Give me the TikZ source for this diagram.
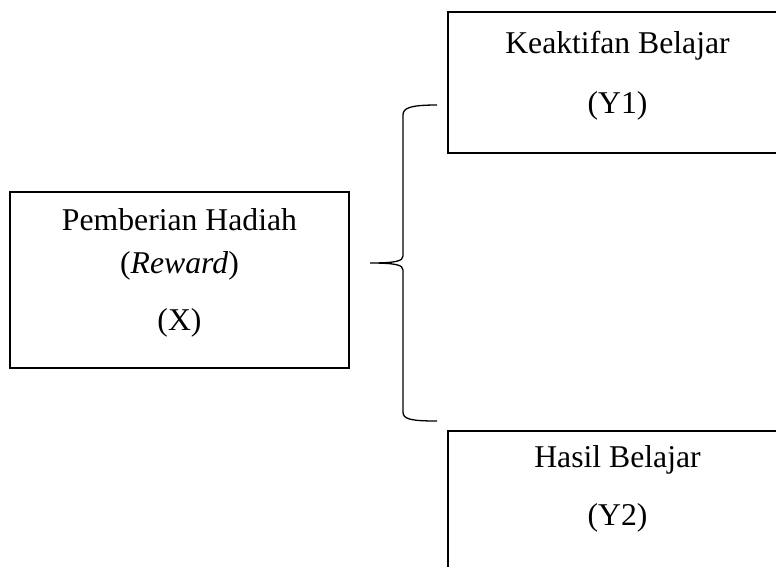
\documentclass[tikz,border=0pt]{standalone}
\usepackage{fontspec}
\setmainfont{Liberation Serif}
\usetikzlibrary{positioning}
\tikzset{
varbox/.style={draw,line width=2.5pt,minimum width=339pt,inner sep=0pt},
vartext/.style={align=center,inner sep=0pt,font=\fontsize{31.7}{43}\selectfont},
bracket/.style={line width=1.3pt}
}

\begin{document}
\begin{tikzpicture}[x=1pt,y=-1pt]
\useasboundingbox (0,0) rectangle (776,566);
%----------------------------------------------------------------------------
% Placement of boxes
\node (boxX) [varbox,minimum height=176pt] at (179.5,280) {};
\node (boxY1) [varbox,minimum height=141pt] at (617.5,82.5) {};
\node (boxY2) [varbox,minimum height=141pt] at (617.5,501.5) {};

%----------------------------------------------------------------------------
% Texts
\node (textX) [vartext,below=18pt of boxX.north] {Pemberian Hadiah\\(\textit{Reward})\\[14pt](X)};
\node (textY1) [vartext,below=20pt of boxY1.north] {Keaktifan Belajar\\[17pt](Y1)};
\node (textY2) [vartext,below=16pt of boxY2.north] {Hasil Belajar\\[15pt](Y2)};

%----------------------------------------------------------------------------
% Brace
\coordinate (braceTop) at (437,105);
\coordinate (braceTip) at (370,263);
\coordinate (braceBot) at (437,421);
\draw[bracket] (braceTop) .. controls (410,105) and (403,108) .. (403,115)
  -- (403,256) .. controls (403,261) and (396,263) .. (braceTip)
  .. controls (396,263) and (403,265) .. (403,270)
  -- (403,412) .. controls (403,419) and (410,421) .. (braceBot);

\end{tikzpicture}
\end{document}
